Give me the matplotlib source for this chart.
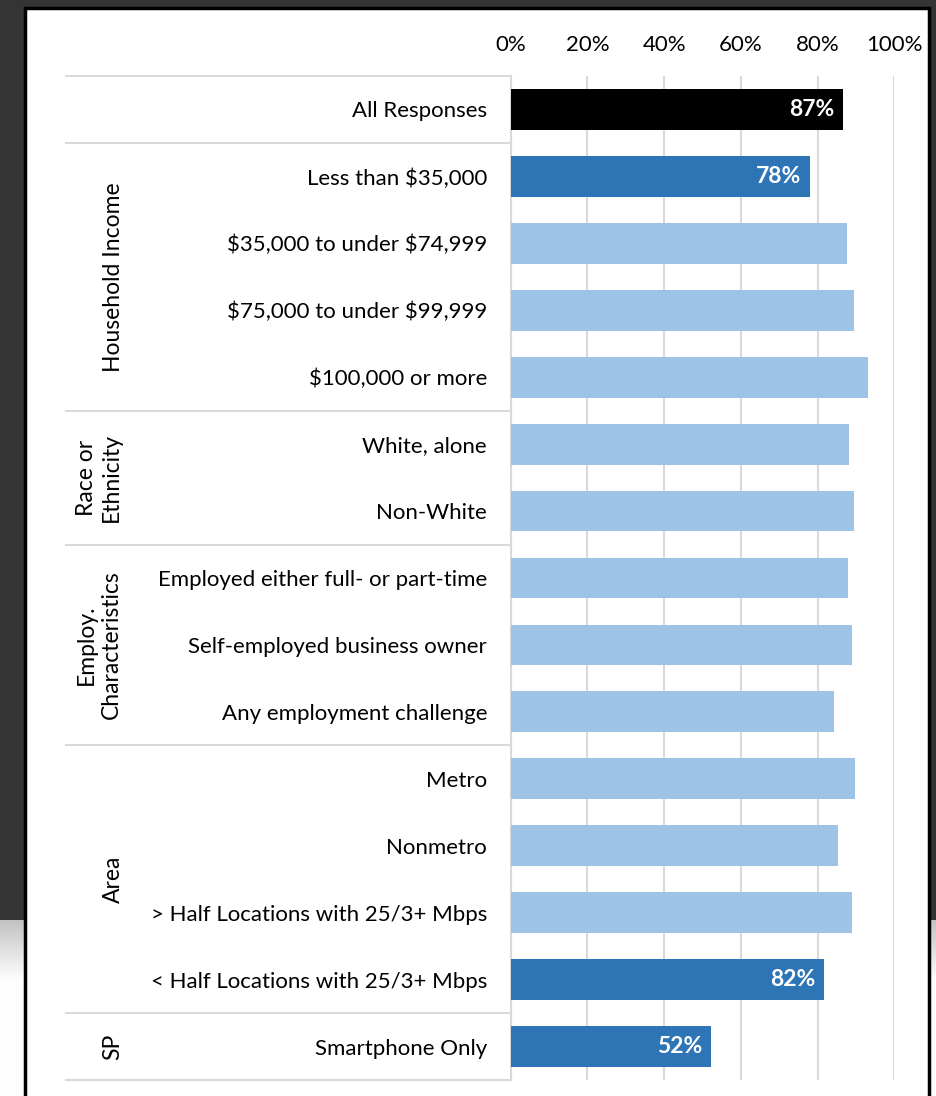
import matplotlib
matplotlib.use("Agg")
import matplotlib.pyplot as plt
from matplotlib.patches import Rectangle
from matplotlib.lines import Line2D
import numpy as np

plt.rcParams['font.family'] = ['Lato', 'DejaVu Sans']
plt.rcParams['text.parse_math'] = False

categories = [
    "All Responses",
    "Less than $35,000",
    "$35,000 to under $74,999",
    "$75,000 to under $99,999",
    "$100,000 or more",
    "White, alone",
    "Non-White",
    "Employed either full- or part-time",
    "Self-employed business owner",
    "Any employment challenge",
    "Metro",
    "Nonmetro",
    "> Half Locations with 25/3+ Mbps",
    "< Half Locations with 25/3+ Mbps",
    "Smartphone Only",
]
values = [86.6, 78.0, 87.7, 89.5, 93.2, 88.1, 89.5, 87.8, 88.9, 84.4, 89.7, 85.2, 88.9, 81.6, 52.1]
# bar style: 0 = black (total), 1 = highlighted dark blue, 2 = light blue
styles = [0, 1, 2, 2, 2, 2, 2, 2, 2, 2, 2, 2, 2, 1, 1]
labeled = [True, True, False, False, False, False, False, False, False, False, False, False, False, True, True]
groups = [("Household Income", 1, 4), ("Race or\nEthnicity", 5, 6),
          ("Employ.\nCharacteristics", 7, 9), ("Area", 10, 13), ("SP", 14, 14)]
separators = [0, 1, 5, 7, 10, 14, 15]  # row boundaries
xticks = [0, 20, 40, 60, 80, 100]

colors = {0: "#000000", 1: "#2E75B6", 2: "#9DC3E6"}

W, H = 937, 1096
fig = plt.figure(figsize=(W / 100, H / 100), dpi=100)

# Background (slide-like)
bg = fig.add_axes([0, 0, 1, 1], zorder=-10)
grad = np.ones((H, 1))
top_dark = 920
grad[:top_dark] = 0.21
ramp = np.linspace(0.76, 0.99, 60)
grad[top_dark:top_dark + 60, 0] = ramp
grad[top_dark + 60:] = 0.99
bg.imshow(grad, cmap="gray", vmin=0, vmax=1, aspect="auto", extent=[0, W, H, 0])
bg.add_patch(Rectangle((25, 8), 904, H, facecolor="white", edgecolor="black", linewidth=2.5))
bg.set_xlim(0, W)
bg.set_ylim(H, 0)
bg.axis("off")

left_px, right_px, top_px, bot_px = 510.7, 894.3, 76, 1080
ax = fig.add_axes([left_px / W, (H - bot_px) / H, (right_px - left_px) / W, (bot_px - top_px) / H])
ax.set_facecolor("none")

n = len(categories)
y = np.arange(n)
bar_colors = [colors[s] for s in styles]
ax.barh(y, values, height=0.61, color=bar_colors, zorder=3)
ax.set_ylim(n - 0.5, -0.5)
ax.set_xlim(0, 100)

FS = 16
ax.set_yticks(y)
ax.set_yticklabels(categories, fontsize=FS, color="#000000")
ax.tick_params(axis="y", length=0, pad=17)
ax.xaxis.tick_top()
ax.set_xticks(xticks)
ax.set_xticklabels([f"{t}%" for t in xticks], fontsize=FS, color="#000000")
ax.tick_params(axis="x", length=0, pad=15)
ax.grid(axis="x", color="#d9d9d9", linewidth=1.5, zorder=0)
for s in ["top", "right", "bottom"]:
    ax.spines[s].set_visible(False)
ax.spines["left"].set_color("#d9d9d9")
ax.spines["left"].set_linewidth(1.5)

for i, (v, lab) in enumerate(zip(values, labeled)):
    if lab:
        ax.annotate(f"{round(v):d}%", xy=(v, i), xytext=(-6, 0), textcoords="offset points",
                    ha="right", va="center", color="white", fontsize=16.5, fontweight="bold", zorder=4)

# separator lines in the label area
x_sep_left = (66 - left_px) / (right_px - left_px) * 100
for b in separators:
    ax.add_line(Line2D([x_sep_left, 0], [b - 0.5, b - 0.5], color="#d9d9d9", linewidth=1.5,
                       clip_on=False, zorder=1))

x_group = (99 - left_px) / (right_px - left_px) * 100
x_group1 = (113 - left_px) / (right_px - left_px) * 100
for name, a, b in groups:
    xx = x_group if "\n" in name else x_group1
    ax.text(xx, (a + b) / 2, name, rotation=90, ha="center", va="center",
            multialignment="center", fontsize=16.5, color="#000000", clip_on=False,
            linespacing=1.2)

fig.savefig("out.png", dpi=100)
